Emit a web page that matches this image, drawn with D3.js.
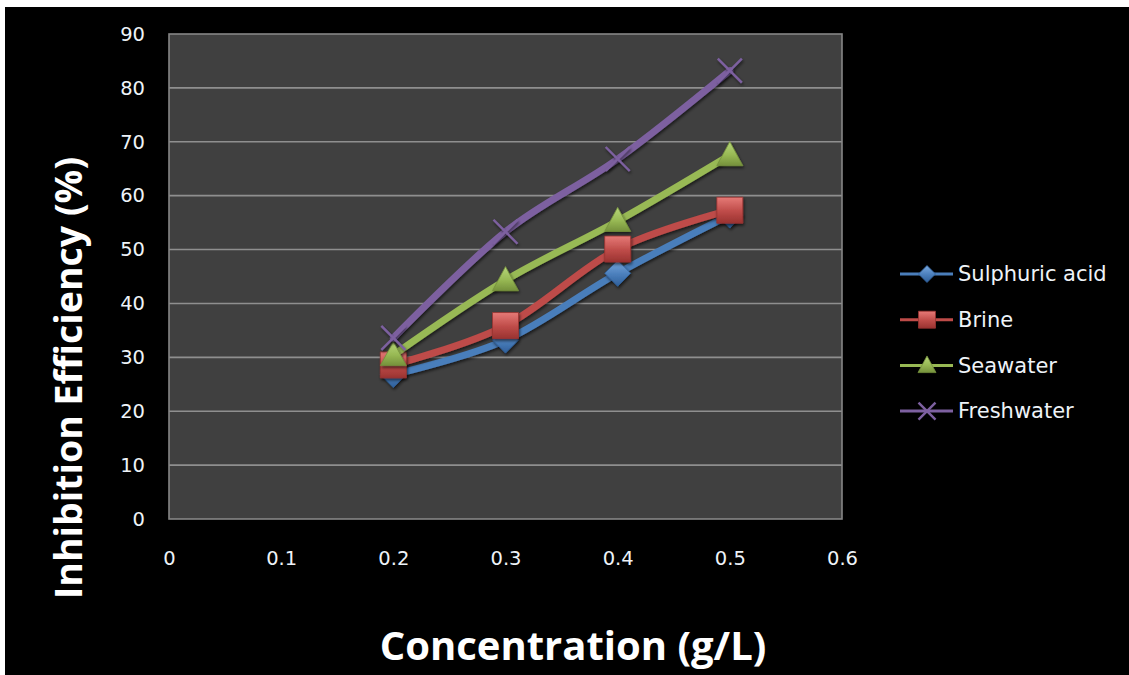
<!DOCTYPE html>
<html>
<head>
<meta charset="utf-8">
<script src="https://cdn.jsdelivr.net/npm/d3@7"></script>
<style>
  html, body { margin: 0; padding: 0; background: #fff; }
  svg { display: block; }
</style>
</head>
<body>
<script>
// chart values
var concentrations = [0.2, 0.3, 0.4, 0.5];
var seriesNames = ["Sulphuric acid", "Brine", "Seawater", "Freshwater"];
var sulphuricAcid = [26.8, 33.2, 45.6, 56.4];
var brine = [28.6, 35.9, 50.1, 57.3];
var seawater = [30.4, 44.3, 55.3, 67.5];
var freshwater = [33.6, 53.3, 66.8, 83.2];
var xTicks = [0, 0.1, 0.2, 0.3, 0.4, 0.5, 0.6];
var yTicks = [0, 10, 20, 30, 40, 50, 60, 70, 80, 90];

var W = 1129, H = 675;
var margin = {left: 169, top: 34, right: 842, bottom: 519};

var series = [
  {name: seriesNames[0], values: sulphuricAcid, color: "#4a7ebb", light: "#7aa9e0", dark: "#2f5f9a", marker: "diamond"},
  {name: seriesNames[1], values: brine, color: "#be4b48", light: "#e67a77", dark: "#9a3331", marker: "square"},
  {name: seriesNames[2], values: seawater, color: "#98b954", light: "#b7d67a", dark: "#75913c", marker: "triangle"},
  {name: seriesNames[3], values: freshwater, color: "#7d60a0", light: "#9a80bb", dark: "#5e4680", marker: "x"}
];

var svg = d3.select("body").append("svg")
    .attr("width", W)
    .attr("height", H);

var defs = svg.append("defs");
series.forEach(function(s, i) {
  var g = defs.append("linearGradient")
      .attr("id", "grad" + i)
      .attr("x1", 0).attr("y1", 0).attr("x2", 0).attr("y2", 1);
  g.append("stop").attr("offset", "0%").attr("stop-color", s.light);
  g.append("stop").attr("offset", "55%").attr("stop-color", s.color);
  g.append("stop").attr("offset", "100%").attr("stop-color", s.dark);
});
var shadow = defs.append("filter").attr("id", "shadow")
    .attr("x", "-30%").attr("y", "-30%").attr("width", "160%").attr("height", "160%");
shadow.append("feDropShadow")
    .attr("dx", 1).attr("dy", 2).attr("stdDeviation", 1.5)
    .attr("flood-color", "#000").attr("flood-opacity", 0.6);

// black chart background, with the thin white edge of the screenshot
svg.append("rect")
    .attr("x", 5).attr("y", 7)
    .attr("width", W - 5).attr("height", H - 7)
    .attr("fill", "#000");

var x = d3.scaleLinear().domain([0, 0.6]).range([margin.left, margin.right]);
var y = d3.scaleLinear().domain([0, 90]).range([margin.bottom, margin.top]);

// plot area
svg.append("rect")
    .attr("x", x(0)).attr("y", y(90))
    .attr("width", x(0.6) - x(0)).attr("height", y(0) - y(90))
    .attr("fill", "#404040");

// gridlines
svg.append("g")
  .selectAll("line")
  .data(yTicks.filter(function(d) { return d > 0 && d < 90; }))
  .join("line")
    .attr("x1", x(0)).attr("x2", x(0.6))
    .attr("y1", function(d) { return y(d); })
    .attr("y2", function(d) { return y(d); })
    .attr("stroke", "#8f8f8f")
    .attr("stroke-width", 1.6);

svg.append("rect")
    .attr("x", x(0)).attr("y", y(90))
    .attr("width", x(0.6) - x(0)).attr("height", y(0) - y(90))
    .attr("fill", "none")
    .attr("stroke", "#868686")
    .attr("stroke-width", 1.6);

// axes (labels only, Excel style)
var yAxis = svg.append("g")
    .attr("transform", "translate(" + (x(0) - 24) + ",0)")
    .call(d3.axisLeft(y).tickValues(yTicks).tickSize(0).tickPadding(0));
var xAxis = svg.append("g")
    .attr("transform", "translate(0," + (y(0) + 32) + ")")
    .call(d3.axisBottom(x).tickValues(xTicks).tickSize(0).tickPadding(0)
      .tickFormat(function(d) { return d === 0 ? "0" : d3.format(".1f")(d); }));
[xAxis, yAxis].forEach(function(a) {
  a.select(".domain").remove();
  a.selectAll("text")
      .attr("fill", "#eef3f8")
      .style("font-family", "'DejaVu Sans', sans-serif")
      .style("font-size", "19.5px");
});

// axis titles
svg.append("text")
    .attr("transform", "translate(82,378) rotate(-90)")
    .attr("text-anchor", "middle")
    .attr("fill", "#fff")
    .style("font-family", "'Open Sans', sans-serif")
    .style("font-weight", "bold")
    .style("font-size", "37.5px")
    .text("Inhibition Efficiency (%)");

svg.append("text")
    .attr("x", 573).attr("y", 660)
    .attr("text-anchor", "middle")
    .attr("fill", "#fff")
    .style("font-family", "'Open Sans', sans-serif")
    .style("font-weight", "bold")
    .style("font-size", "40px")
    .text("Concentration (g/L)");

// marker shapes
function markerPath(type, r) {
  if (type === "diamond") return "M0," + (-r) + "L" + r + ",0L0," + r + "L" + (-r) + ",0Z";
  if (type === "square") return "M" + (-r) + "," + (-r) + "H" + r + "V" + r + "H" + (-r) + "Z";
  if (type === "triangle") return "M0," + (-r * 1.05) + "L" + r + "," + (r * 0.8) + "L" + (-r) + "," + (r * 0.8) + "Z";
  return "M" + (-r) + "," + (-r) + "L" + r + "," + r + "M" + r + "," + (-r) + "L" + (-r) + "," + r;
}

function drawMarker(sel, s, i, r) {
  if (s.marker === "x") {
    sel.append("path")
        .attr("d", markerPath("x", r))
        .attr("stroke", s.color)
        .attr("stroke-width", 2.4)
        .attr("fill", "none");
  } else {
    sel.append("path")
        .attr("d", markerPath(s.marker, r))
        .attr("fill", "url(#grad" + i + ")")
        .attr("stroke", s.dark)
        .attr("stroke-width", 0.8);
  }
}

var line = d3.line()
    .x(function(d) { return x(d[0]); })
    .y(function(d) { return y(d[1]); })
    .curve(d3.curveCatmullRom.alpha(0));

var plot = svg.append("g");
series.forEach(function(s, i) {
  var pts = concentrations.map(function(c, k) { return [c, s.values[k]]; });
  var g = plot.append("g");
  g.append("path")
      .datum(pts)
      .attr("d", line)
      .attr("fill", "none")
      .attr("stroke", s.color)
      .attr("stroke-width", 7)
      .attr("stroke-linecap", "round")
      .attr("filter", "url(#shadow)");
  var sizes = {diamond: 13, square: 13, triangle: 13, x: 12};
  g.selectAll("g.marker")
    .data(pts)
    .join("g")
      .attr("class", "marker")
      .attr("filter", "url(#shadow)")
      .attr("transform", function(d) { return "translate(" + x(d[0]) + "," + y(d[1]) + ")"; })
      .each(function() { drawMarker(d3.select(this), s, i, sizes[s.marker]); });
});

// legend
var legend = svg.append("g").attr("transform", "translate(900,274)");
var rows = legend.selectAll("g")
  .data(series)
  .join("g")
    .attr("transform", function(d, i) { return "translate(0," + (i * 45.7) + ")"; });
rows.append("line")
    .attr("x1", 0).attr("x2", 53)
    .attr("stroke", function(d) { return d.color; })
    .attr("stroke-width", 3);
rows.each(function(d, i) {
  var m = d3.select(this).append("g").attr("transform", "translate(27,0)");
  var legendSizes = {diamond: 8.5, square: 8.5, triangle: 9, x: 8.5};
  drawMarker(m, d, i, legendSizes[d.marker]);
});
rows.append("text")
    .attr("x", 58)
    .attr("dy", "0.35em")
    .attr("fill", "#eef3f8")
    .style("font-family", "'DejaVu Sans', sans-serif")
    .style("font-size", "21px")
    .text(function(d) { return d.name; });
</script>
</body>
</html>
